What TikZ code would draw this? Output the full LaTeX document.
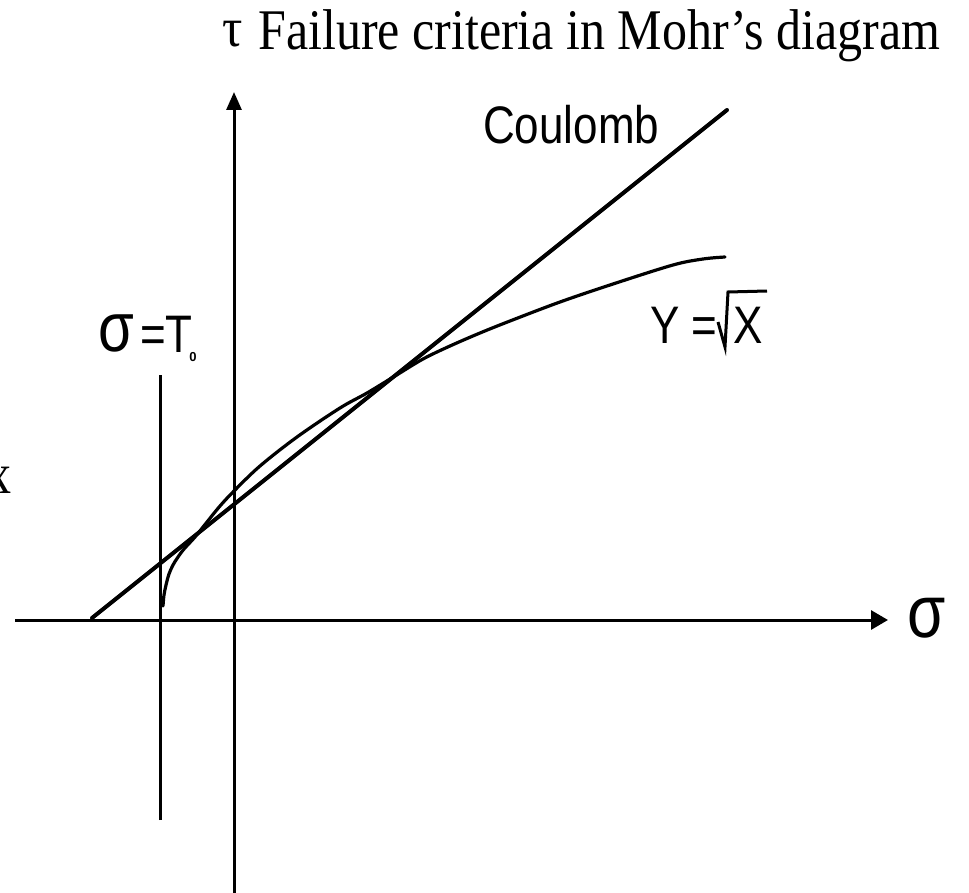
\documentclass[tikz,border=0pt]{standalone}
\usepackage{fontspec}
\setmainfont{Liberation Serif}
\newfontfamily\arialf{Liberation Sans}
\usetikzlibrary{arrows.meta}
\tikzset{
  axisline/.style={line width=3pt, line cap=butt},
  lawline/.style={line width=4pt, line cap=round},
  curveline/.style={line width=3.2pt, line cap=round, line join=round},
  titletext/.style={inner sep=0pt, font=\fontsize{50}{56}\selectfont},
  sanslabel/.style={inner sep=0pt, font=\arialf\fontsize{44}{50}\selectfont},
}
\begin{document}
\begin{tikzpicture}[x=1pt,y=-1pt]
\useasboundingbox (0,0) rectangle (969,893);
% axes
\coordinate (xl) at (15,620);
\coordinate (xr) at (888,620);
\coordinate (yb) at (234,893);
\coordinate (yt) at (234,92);
\draw[axisline,-{Triangle[length=17pt,width=19pt]}] (xl) -- (xr);
\draw[axisline,-{Triangle[length=18pt,width=15pt]}] (yb) -- (yt);
% tension cut-off line sigma = T0
\coordinate (tb) at (160,820);
\coordinate (tt) at (160,375);
\draw[axisline] (tb) -- (tt);
% Coulomb line
\coordinate (ca) at (92,618);
\coordinate (cb) at (727,110);
\draw[lawline] (ca) -- (cb);
% Y = sqrt(X) curve
\draw[curveline] plot[smooth, tension=0.55] coordinates {
 (163,606) (164,595) (166,585) (169,574) (173,565) (178,557) (184,549)
 (195,537) (207,522) (220,506) (234,491) (260,466) (297,437) (340,408)
 (367,393) (395,376) (423,359) (450,346) (480,333) (510,321) (560,302)
 (613,284) (673,265) (703,259) (725,257)};
% labels
\node[inner sep=0pt, anchor=center] (tau) at (233,34) {\scalebox{1.1}[1.2]{\fontsize{46}{50}\selectfont τ}};
\node[titletext, anchor=base west] (title) at (258,50) {\scalebox{1}[1.15]{Failure criteria in Mohr’s diagram}};
\node[titletext, anchor=base east] (xcut) at (12,493) {\scalebox{1}[1.15]{x}};
\node[sanslabel, anchor=base west] (coul) at (483,144) {\scalebox{1}[1.2]{Coulomb}};
\node[inner sep=0pt, anchor=center] (sig) at (927,618) {\arialf\scalebox{1}[1.2]{\fontsize{62}{64}\selectfont σ}};
% sigma = T0 label
\node[inner sep=0pt, anchor=center] (sigl) at (116,333) {\arialf\scalebox{1}[1.2]{\fontsize{58}{60}\selectfont σ}};
\node[sanslabel, anchor=base west] (eql) at (140,352) {\scalebox{1}[1.2]{=T}};
\node[inner sep=0pt, anchor=center, font=\arialf\bfseries\fontsize{13}{14}\selectfont] (sub) at (193,357) {0};
% Y = sqrt X label
\node[sanslabel, anchor=base west] (ylab) at (650,343) {\scalebox{1}[1.2]{Y =}};
\coordinate (r1) at (718,322);
\coordinate (r2) at (725,347);
\coordinate (r3) at (728,292);
\coordinate (r4) at (767,291);
\draw[line width=3pt, line join=miter] (r1) -- (r2) -- (r3) -- (r4);
\node[sanslabel, anchor=base west] (xlab) at (733,343) {\scalebox{1}[1.2]{X}};
\end{tikzpicture}
\end{document}
